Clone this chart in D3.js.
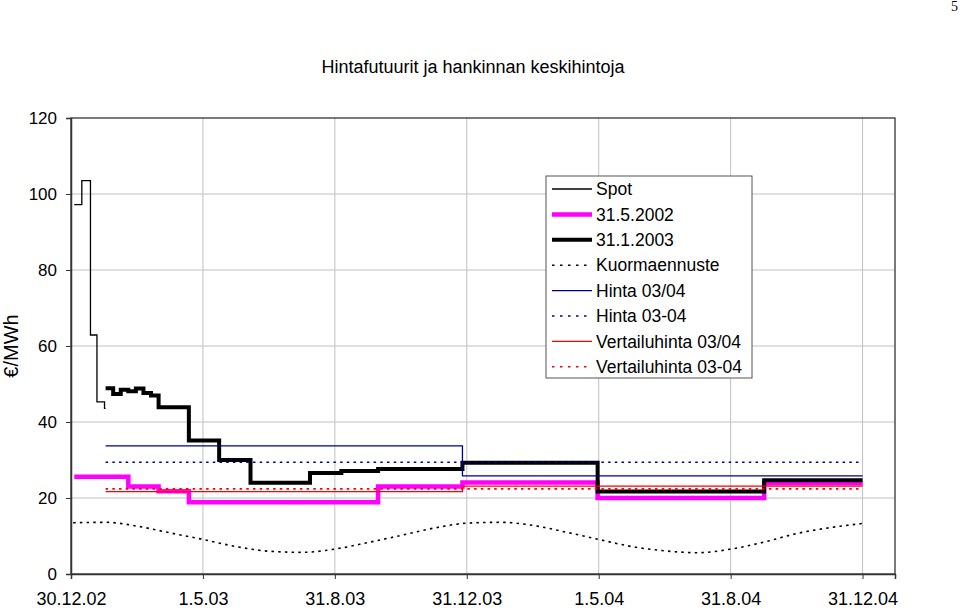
<!doctype html>
<html lang="fi">

<head>
    <meta charset="utf-8">
    <title>Hintafutuurit ja hankinnan keskihintoja</title>
    <style>
        body {
            margin: 0px;
            background: #fff;
        }

        svg text {
            font-family: "Liberation Sans", Arial, Helvetica, sans-serif;
            fill: #000;
        }

        .grid line {
            stroke: #c0c0c0;
            stroke-width: 1;
        }

        .axis path,
        .axis line {
            stroke: #333;
        }

        .axis path {
            stroke-width: 1.5;
        }

        .series {
            fill: none;
        }

        .page-no {
            font-family: "Liberation Serif", "Times New Roman", serif;
            font-size: 14px;
        }
    </style>
</head>

<body>
</body>
<script src="https://d3js.org/d3.v7.min.js"></script>
<script>
    // x axis tick labels (dates)
    const tickDates = ["2002-12-30", "2003-05-01", "2003-08-31", "2003-12-31", "2004-05-01", "2004-08-31", "2004-12-31"];
    const yTicks = [0, 20, 40, 60, 80, 100, 120];

    // Spot (weekly)
    const spotDates = ["2003-01-02", "2003-01-09", "2003-01-17", "2003-01-23", "2003-01-30", "2003-01-31"];
    const spotValues = [97.2, 103.5, 62.9, 45.3, 43.6, 43.6];

    // futures curve 31.5.2002
    const may02Dates = ["2003-01-02", "2003-02-21", "2003-03-21", "2003-04-18", "2003-10-10", "2003-12-27", "2004-04-30", "2004-10-01", "2004-12-31"];
    const may02Values = [25.6, 23.0, 21.8, 18.9, 23.0, 24.1, 20.0, 23.9, 23.9];

    // futures curve 31.1.2003
    const jan03Dates = ["2003-01-31", "2003-02-07", "2003-02-14", "2003-02-21", "2003-02-28", "2003-03-07", "2003-03-14",
        "2003-03-21", "2003-04-18", "2003-05-16", "2003-06-14", "2003-08-08", "2003-09-06", "2003-10-10",
        "2003-12-27", "2004-04-30", "2004-10-01", "2004-12-31"];
    const jan03Values = [48.9, 47.4, 48.5, 48.1, 48.8, 47.6, 47.0, 43.9, 35.1, 30.0, 24.0, 26.6, 27.1, 27.6,
        29.3, 21.7, 24.7, 24.7];

    // Kuormaennuste (monthly)
    const loadDates = ["2003-01-01", "2003-02-01", "2003-03-01", "2003-04-01", "2003-05-01", "2003-06-01", "2003-07-01",
        "2003-08-01", "2003-09-01", "2003-10-01", "2003-11-01", "2003-12-01", "2004-01-01", "2004-02-01",
        "2004-03-01", "2004-04-01", "2004-05-01", "2004-06-01", "2004-07-01", "2004-08-01", "2004-09-01",
        "2004-10-01", "2004-11-01", "2004-12-01", "2004-12-31"];
    const loadValues = [13.5, 13.6, 12.6, 10.8, 9.1, 7.2, 6.0, 5.7, 6.6, 8.3, 10.2, 12.1, 13.4, 13.6,
        12.8, 11.0, 9.1, 7.2, 6.1, 5.6, 6.6, 8.4, 10.7, 12.2, 13.3];

    // Hinta 03/04
    const hintaYearDates = ["2003-01-31", "2003-12-27", "2004-12-31"];
    const hintaYearValues = [33.7, 25.8, 25.8];

    // Hinta 03-04
    const hintaAvgDates = ["2003-01-31", "2004-12-31"];
    const hintaAvgValues = [29.4, 29.4];

    // Vertailuhinta 03/04
    const vertYearDates = ["2003-01-31", "2003-12-27", "2004-12-31"];
    const vertYearValues = [21.7, 23.1, 23.1];

    // Vertailuhinta 03-04
    const vertAvgDates = ["2003-01-31", "2004-12-31"];
    const vertAvgValues = [22.4, 22.4];

    const parse = d3.utcParse("%Y-%m-%d");

    function toPoints(dates, values) {
        return dates.map((d, i) => ({ date: parse(d), value: values[i] }));
    }

    const series = [
        { name: "Spot", data: toPoints(spotDates, spotValues), color: "#000", width: 1.3, dash: null, curve: d3.curveStepAfter },
        { name: "31.5.2002", data: toPoints(may02Dates, may02Values), color: "#ff00ff", width: 4.5, dash: null, curve: d3.curveStepAfter },
        { name: "31.1.2003", data: toPoints(jan03Dates, jan03Values), color: "#000", width: 4, dash: null, curve: d3.curveStepAfter },
        { name: "Kuormaennuste", data: toPoints(loadDates, loadValues), color: "#000", width: 1.6, dash: "2.5,4.2", curve: d3.curveMonotoneX },
        { name: "Hinta 03/04", data: toPoints(hintaYearDates, hintaYearValues), color: "#00008b", width: 1.3, dash: null, curve: d3.curveStepAfter },
        { name: "Hinta 03-04", data: toPoints(hintaAvgDates, hintaAvgValues), color: "#00008b", width: 1.6, dash: "2.5,4.2", curve: d3.curveStepAfter },
        { name: "Vertailuhinta 03/04", data: toPoints(vertYearDates, vertYearValues), color: "#ff0000", width: 1.3, dash: null, curve: d3.curveStepAfter },
        { name: "Vertailuhinta 03-04", data: toPoints(vertAvgDates, vertAvgValues), color: "#ff0000", width: 1.6, dash: "2.5,4.2", curve: d3.curveStepAfter }
    ];

    const width = 960;
    const height = 610;
    const margin = { top: 118, right: 65, bottom: 36, left: 71 };

    const svg = d3.select('body').append('svg')
        .attr('width', width)
        .attr('height', height);

    const x = d3.scaleUtc()
        .domain([parse("2002-12-30"), parse("2005-01-30")])
        .range([margin.left, width - margin.right]);

    const y = d3.scaleLinear()
        .domain([0, 120])
        .range([height - margin.bottom, margin.top]);

    // page number
    svg.append('text').attr('class', 'page-no')
        .attr('x', 958).attr('y', 11)
        .attr('text-anchor', 'end')
        .text('5');

    // title
    svg.append('text')
        .attr('x', 473).attr('y', 73)
        .attr('text-anchor', 'middle')
        .style('font-size', '18px')
        .text('Hintafutuurit ja hankinnan keskihintoja');

    // y label
    svg.append('text')
        .attr('transform', `translate(18,${(margin.top + height - margin.bottom) / 2}) rotate(-90)`)
        .attr('text-anchor', 'middle')
        .style('font-size', '20px')
        .text('€/MWh');

    // grid
    const grid = svg.append('g').attr('class', 'grid');
    grid.selectAll('line.h')
        .data(yTicks.slice(1, -1))
        .enter().append('line')
        .attr('class', 'h')
        .attr('x1', margin.left).attr('x2', width - margin.right)
        .attr('y1', d => y(d)).attr('y2', d => y(d));
    grid.selectAll('line.v')
        .data(tickDates.slice(1))
        .enter().append('line')
        .attr('class', 'v')
        .attr('x1', d => x(parse(d))).attr('x2', d => x(parse(d)))
        .attr('y1', margin.top).attr('y2', height - margin.bottom);

    // plot frame
    svg.append('rect')
        .attr('x', margin.left).attr('y', margin.top)
        .attr('width', width - margin.right - margin.left)
        .attr('height', height - margin.bottom - margin.top)
        .attr('fill', 'none')
        .attr('stroke', '#333')
        .attr('stroke-width', 1.3);

    // axes
    const xAxis = d3.axisBottom(x)
        .tickValues(tickDates.map(parse))
        .tickFormat(d3.utcFormat("%-d.%-m.%y"))
        .tickSize(5)
        .tickPadding(13);

    svg.append('g').attr('class', 'axis x-axis')
        .attr('transform', `translate(0,${height - margin.bottom})`)
        .call(xAxis)
        .call(g => g.selectAll('text').style('font-size', '18px').attr('font-family', null));

    const yAxis = d3.axisLeft(y)
        .tickValues(yTicks)
        .tickSize(5)
        .tickPadding(9);

    svg.append('g').attr('class', 'axis y-axis')
        .attr('transform', `translate(${margin.left},0)`)
        .call(yAxis)
        .call(g => g.selectAll('text').style('font-size', '17px').attr('font-family', null));

    svg.selectAll('.axis .domain').attr('stroke', '#333');

    // series
    const lines = svg.append('g').attr('class', 'lines');
    lines.selectAll('path')
        .data(series)
        .enter().append('path')
        .attr('class', 'series')
        .attr('stroke', d => d.color)
        .attr('stroke-width', d => d.width)
        .attr('stroke-dasharray', d => d.dash)
        .attr('d', d => d3.line()
            .curve(d.curve)
            .x(p => x(p.date))
            .y(p => y(p.value))(d.data));

    // legend
    const legend = svg.append('g').attr('class', 'legend')
        .attr('transform', 'translate(546,176)');

    legend.append('rect')
        .attr('width', 206).attr('height', 202)
        .attr('fill', '#fff')
        .attr('stroke', '#555')
        .attr('stroke-width', 1);

    const items = legend.selectAll('g.item')
        .data(series)
        .enter().append('g')
        .attr('class', 'item')
        .attr('transform', (d, i) => `translate(0,${13 + i * 25.4})`);

    items.append('line')
        .attr('x1', 6).attr('x2', 46)
        .attr('stroke', d => d.color)
        .attr('stroke-width', d => d.width)
        .attr('stroke-dasharray', d => d.dash ? "2.5,5.5" : null);

    items.append('text')
        .attr('x', 50)
        .attr('dy', '0.35em')
        .style('font-size', '17.5px')
        .text(d => d.name);
</script>

</html>
